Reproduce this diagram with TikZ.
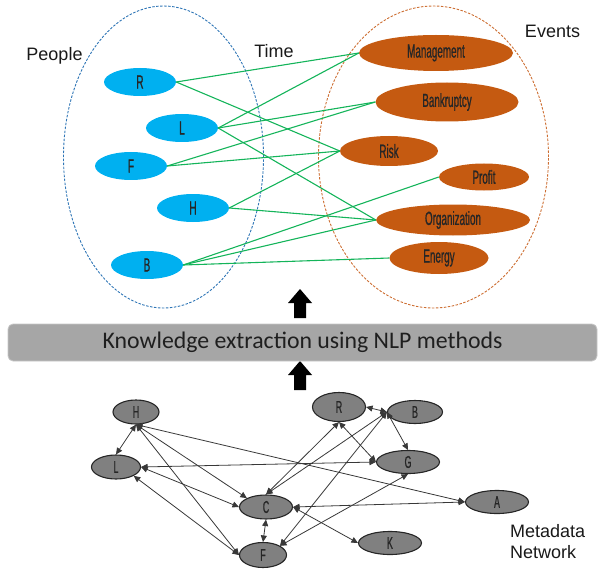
\documentclass[tikz,border=0pt]{standalone}
\usepackage{fontspec}
\setmainfont{Liberation Sans}
\newfontfamily\labelfont[FakeStretch=0.52,FakeBold=0.8]{Liberation Sans}
\newfontfamily\bannerfont{Carlito}
\usetikzlibrary{shapes.geometric,arrows.meta}
\definecolor{peopleblue}{RGB}{0,176,240}
\definecolor{eventorange}{RGB}{197,90,17}
\definecolor{linkgreen}{RGB}{20,180,90}
\definecolor{netgray}{RGB}{128,128,128}
\definecolor{bannergray}{RGB}{166,166,166}
\definecolor{dashblue}{RGB}{46,117,182}
\definecolor{dashorange}{RGB}{205,110,50}

\begin{document}
\begin{tikzpicture}[x=1pt,y=-1pt,
  group/.style={ellipse, draw, dash pattern=on 2.5pt off 1.5pt, line width=0.9pt, inner sep=0pt},
  person/.style={ellipse, fill=peopleblue, inner sep=0pt, minimum width=72pt, minimum height=28pt,
    font=\labelfont\fontsize{19}{19}\selectfont, text=black!85},
  event/.style={ellipse, fill=eventorange, inner sep=0pt,
    font=\labelfont\fontsize{19}{19}\selectfont, text=black!85},
  link/.style={draw=linkgreen, line width=1.1pt},
  meta/.style={ellipse, draw=black!85, line width=1.1pt, fill=netgray, inner sep=0pt,
    font=\labelfont\fontsize{17}{17}\selectfont, text=black!85},
  rel/.style={draw=black!78, line width=0.8pt,
    {Triangle[length=6.5pt,width=6pt]}-{Triangle[length=6.5pt,width=6pt]}},
  heading/.style={font=\fontsize{18}{18}\selectfont, text=black!90, anchor=base, inner sep=0pt},
]
\useasboundingbox (0,0) rectangle (599,572);

% ---- grouping ellipses ----
\node[group, draw=dashblue, minimum width=200pt, minimum height=302pt] (peoplegrp) at (163.5,157) {};
\node[group, draw=dashorange, minimum width=230pt, minimum height=302pt] (eventgrp) at (433.5,157) {};

% ---- headings ----
\node[heading] (lblpeople) at (54.5,61) {People};
\node[heading] (lbltime) at (274,58) {Time};
\node[heading] (lblevents) at (552.5,38) {Events};

% ---- people ----
\node[person] (pR) at (140,82) {R};
\node[person] (pL) at (182,128) {L};
\node[person] (pF) at (131,166) {F};
\node[person] (pH) at (193,208) {H};
\node[person] (pB) at (147,265) {B};

% ---- events ----
\node[event, minimum width=154pt, minimum height=36pt] (eMan) at (436,53) {Management};
\node[event, minimum width=143pt, minimum height=39pt] (eBank) at (447,102) {Bankruptcy};
\node[event, minimum width=98pt, minimum height=30pt] (eRisk) at (389,151) {Risk};
\node[event, minimum width=90pt, minimum height=27pt] (eProf) at (484,177) {Profit};
\node[event, minimum width=154pt, minimum height=31pt] (eOrg) at (453,220) {Organization};
\node[event, minimum width=99pt, minimum height=32pt] (eEn) at (439,258) {Energy};

% ---- person-event links ----
\draw[link] (pR.east) -- (eMan.west);
\draw[link] (pR.east) -- (eRisk.west);
\draw[link] (pL.east) -- (eMan.west);
\draw[link] (pL.east) -- (eBank.west);
\draw[link] (pL.east) -- (eOrg.west);
\draw[link] (pF.east) -- (eBank.west);
\draw[link] (pF.east) -- (eRisk.west);
\draw[link] (pH.east) -- (eRisk.west);
\draw[link] (pH.east) -- (eOrg.west);
\draw[link] (pB.east) -- (eProf.west);
\draw[link] (pB.east) -- (eOrg.west);
\draw[link] (pB.east) -- (eEn.west);

% ---- block arrows ----
\fill[black] (288,303) -- (300,289) -- (312,303) -- (306,303) -- (306,318) -- (294,318) -- (294,303) -- cycle;
\fill[black] (288,375) -- (300,361) -- (312,375) -- (306,375) -- (306,390) -- (294,390) -- (294,375) -- cycle;

% ---- banner ----
\node[rounded corners=5pt, fill=bannergray, draw=black!22, line width=0.8pt,
      minimum width=589pt, minimum height=37pt, inner sep=0pt,
      font=\bannerfont\fontsize{23.8}{24}\selectfont, text=black!88] (banner) at (302.5,342.5)
      {Knowledge extraction using NLP methods};

% ---- metadata network ----
\node[meta, minimum width=46pt, minimum height=24pt] (mH) at (136,412) {H};
\node[meta, minimum width=49pt, minimum height=24pt] (mL) at (116,467) {L};
\node[meta, minimum width=53pt, minimum height=24pt] (mC) at (266,507) {C};
\node[meta, minimum width=47pt, minimum height=25pt] (mF) at (263,555) {F};
\node[meta, minimum width=53pt, minimum height=29pt] (mR) at (339,407) {R};
\node[meta, minimum width=55pt, minimum height=23pt] (mB) at (415,412) {B};
\node[meta, minimum width=63pt, minimum height=23pt] (mG) at (408,462) {G};
\node[meta, minimum width=63pt, minimum height=23pt] (mA) at (497,502) {A};
\node[meta, minimum width=63pt, minimum height=23pt] (mK) at (390,543) {K};

\draw[rel] (mH.south) -- (mL.north);
\draw[rel] (mH.south) -- (mA.west);
\draw[rel] (mH.south) -- (mC.north west);
\draw[rel] (mH.south) -- (mF.west);
\draw[rel] (mL.east) -- (mC.west);
\draw[rel] (mL.east) -- (mG.west);
\draw[rel] (mL.south east) -- (mF.west);
\draw[rel] (mC.south) -- (mF.north);
\draw[rel] (mC.north) -- (mR.south);
\draw[rel] (mC.north) -- (mB.west);
\draw[rel] (mC.east) -- (mA.west);
\draw[rel] (mC.east) -- (mK.west);
\draw[rel] (mF.north east) -- (mB.west);
\draw[rel] (mF.north east) -- (mG.south);
\draw[rel] (mR.east) -- (mB.west);
\draw[rel] (mR.south) -- (mG.west);
\draw[rel] (mB.west) -- (mG.north);

\node[heading, anchor=base west] (lblmeta1) at (510,537) {Metadata};
\node[heading, anchor=base west] (lblmeta2) at (510,558) {Network};
\end{tikzpicture}
\end{document}
